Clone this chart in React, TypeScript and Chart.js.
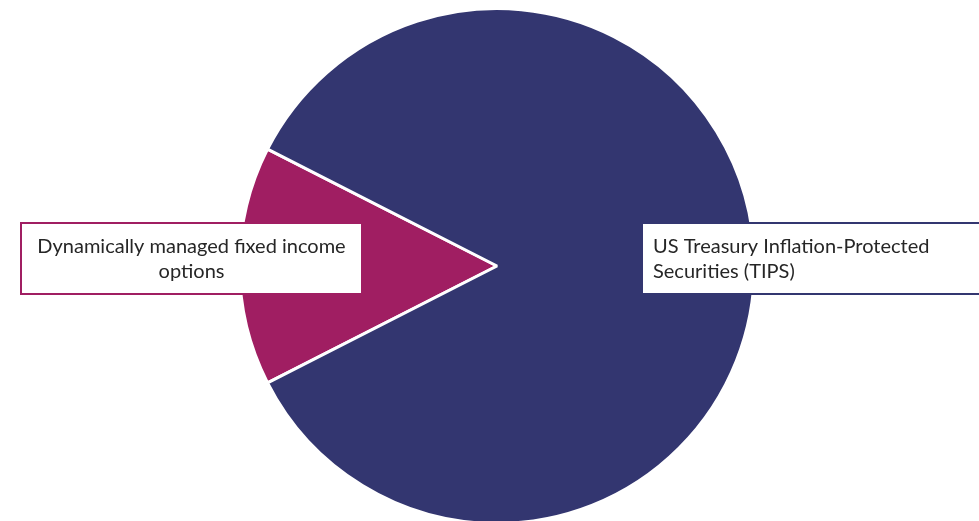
import React, { useEffect, useRef } from "react";
import { Chart, registerables } from "chart.js";

Chart.register(...registerables);

const categories = [
  "Dynamically managed fixed income options",
  "US Treasury Inflation-Protected Securities (TIPS)",
];
const values = [15, 85];
const colors = ["#A01E62", "#333670"];
const labelLines = [
  ["Dynamically managed fixed income", "options"],
  ["US Treasury Inflation-Protected", "Securities (TIPS)"],
];

const FONT = "20px Lato, 'Open Sans', sans-serif";

const calloutPlugin = {
  id: "callouts",
  afterDatasetsDraw(chart: any) {
    const meta = chart.getDatasetMeta(0);
    const arc = meta.data[0];
    if (!arc) return;
    const cx = arc.x;
    const cy = arc.y;
    const ctx = chart.ctx;
    ctx.save();
    ctx.font = FONT;
    ctx.textBaseline = "middle";
    // box layouts relative to pie center
    const boxes = [
      { l: cx - 476, r: cx - 135, t: cy - 43, b: cy + 28, align: "center" },
      { l: cx + 145, r: cx + 500, t: cy - 43, b: cy + 28, align: "left" },
    ];
    boxes.forEach((bx, i) => {
      ctx.fillStyle = "#ffffff";
      ctx.fillRect(bx.l, bx.t, bx.r - bx.l, bx.b - bx.t);
      ctx.strokeStyle = colors[i];
      ctx.lineWidth = 2;
      ctx.strokeRect(bx.l, bx.t, bx.r - bx.l, bx.b - bx.t);
      ctx.fillStyle = "#262626";
      const lines = labelLines[i];
      const lh = 25;
      const midY = (bx.t + bx.b) / 2 + 1;
      lines.forEach((ln, j) => {
        const y = midY + (j - (lines.length - 1) / 2) * lh;
        if (bx.align === "center") {
          ctx.textAlign = "center";
          ctx.fillText(ln, (bx.l + bx.r) / 2, y);
        } else {
          ctx.textAlign = "left";
          ctx.fillText(ln, bx.l + 11, y);
        }
      });
    });
    ctx.restore();
  },
};

export default function App() {
  const ref = useRef<HTMLCanvasElement | null>(null);
  useEffect(() => {
    if (!ref.current) return;
    const chart = new Chart(ref.current, {
      type: "pie",
      data: {
        labels: categories,
        datasets: [
          {
            data: values,
            backgroundColor: colors,
            borderColor: "#ffffff",
            borderWidth: 3,
          },
        ],
      },
      options: {
        animation: false,
        responsive: true,
        maintainAspectRatio: false,
        rotation: 180 - (values[0] / 100) * 180 + 90,
        layout: { padding: { top: 7, bottom: 15, left: 15, right: 0 } },
        plugins: {
          legend: { display: false },
          tooltip: { enabled: false },
        },
      },
      plugins: [calloutPlugin],
    });
    return () => chart.destroy();
  }, []);
  return (
    <div
      style={{
        position: "fixed",
        left: 0,
        top: 0,
        width: 979,
        height: 521,
        overflow: "hidden",
        background: "#fff",
      }}
    >
      <div style={{ position: "relative", width: 979, height: 540 }}>
        <canvas ref={ref} />
      </div>
    </div>
  );
}
